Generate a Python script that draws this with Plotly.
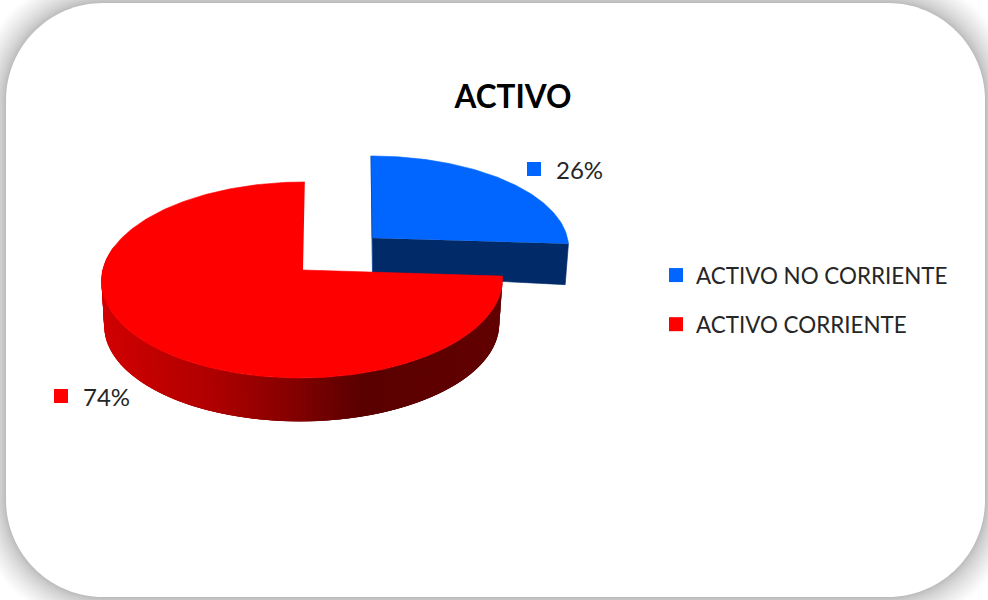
import math
import plotly.graph_objects as go

categories = ["ACTIVO NO CORRIENTE", "ACTIVO CORRIENTE"]
values = [26, 74]
top_colors = ["#0066FF", "#FF0000"]
side_color_blue = "#002A68"
side_stops = [(104, (208, 0, 0)), (210, (176, 0, 0)), (300, (128, 0, 0)), (360, (90, 0, 0)), (500, (98, 0, 0))]
title_text = "ACTIVO"
W, H = 988, 600
FONT = "Lato"
TEXT = "#262626"

# projection settings of each exploded slice
GEOM = [
    dict(cx=372, cy=238, A=90.4, B=195.5, k=0.102, m=0.0, s=-1, depth=41),
    dict(cx=303, cy=270, A=97, B=199.5, k=0.102, m=0.004, s=2, depth=45),
]
LABEL_POS = [(534, 169), (61, 396)]


def project(g, a, bottom=False, radius=1.0):
    X, Y = radius * math.sin(a), radius * math.cos(a)
    w = 1 + g["k"] * Y + g["m"] * X
    dx = (g["B"] * X + g["s"] * Y) / w
    dy = -g["A"] * Y / w
    if bottom:
        return g["cx"] + 0.985 * dx - 0.3, g["cy"] + 0.985 * dy + g["depth"]
    return g["cx"] + dx, g["cy"] + dy


def arc(g, a0, a1, bottom=False, n=120):
    return [project(g, a0 + (a1 - a0) * i / n, bottom) for i in range(n + 1)]


def side_color(x):
    if x <= side_stops[0][0]:
        c = side_stops[0][1]
    elif x >= side_stops[-1][0]:
        c = side_stops[-1][1]
    else:
        for (x0, c0), (x1, c1) in zip(side_stops, side_stops[1:]):
            if x0 <= x <= x1:
                t = (x - x0) / (x1 - x0)
                c = tuple(round(p + (q - p) * t) for p, q in zip(c0, c1))
                break
    return "rgb(%d,%d,%d)" % c


def poly(points, color, width=0.6):
    return go.Scatter(
        x=[p[0] for p in points], y=[p[1] for p in points], mode="lines", fill="toself",
        fillcolor=color, line=dict(color=color, width=width),
        hoverinfo="skip", showlegend=False,
    )


def rounded(l, t, r, b, rad):
    c = rad * 0.4477
    return (
        f"M{l + rad},{t} L{r - rad},{t} C{r - c},{t} {r},{t + c} {r},{t + rad} "
        f"L{r},{b - rad} C{r},{b - c} {r - c},{b} {r - rad},{b} "
        f"L{l + rad},{b} C{l + c},{b} {l},{b - c} {l},{b - rad} "
        f"L{l},{t + rad} C{l},{t + c} {l + c},{t} {l + rad},{t} Z"
    )


fig = go.Figure()
total = sum(values)
a_split = 2 * math.pi * values[0] / total

# blue slice: cut face, then top
gb = GEOM[0]
rim = project(gb, a_split)
rim_b = project(gb, a_split, True)
apex = (gb["cx"], gb["cy"])
apex_b = (gb["cx"] + 0.5, gb["cy"] + gb["depth"] - 4)
fig.add_trace(poly([apex, rim, rim_b, apex_b], side_color_blue))
fig.add_trace(poly([apex] + arc(gb, 0, a_split), top_colors[0]))
top_pt = project(gb, 0)
fig.add_trace(go.Scatter(x=[top_pt[0], apex[0], apex_b[0]], y=[top_pt[1], apex[1], apex_b[1]], mode="lines",
                         line=dict(color="#1C4E96", width=1), hoverinfo="skip", showlegend=False))

# red slice: shaded wall (each band overlaps the next), then top
gr = GEOM[1]
a_wall_end = math.radians(284)
N = 110
for i in range(N):
    a0 = a_split + (a_wall_end - a_split) * i / N
    a1 = a_split + (a_wall_end - a_split) * min(i + 3, N) / N
    a_mid = a_split + (a_wall_end - a_split) * (i + 0.5) / N
    tops = arc(gr, a0, a1, n=4)
    bots = arc(gr, a0, a1, bottom=True, n=4)
    fig.add_trace(poly(tops + bots[::-1], side_color(project(gr, a_mid)[0]), width=0))
apex_r = (gr["cx"], gr["cy"])
fig.add_trace(poly([apex_r] + arc(gr, a_split, 2 * math.pi, n=240), top_colors[1]))

# data labels with keys
for v, col, (lx, ly) in zip(values, top_colors, LABEL_POS):
    fig.add_trace(go.Scatter(x=[lx], y=[ly], mode="markers",
                             marker=dict(symbol="square", size=14, color=col),
                             hoverinfo="skip", showlegend=False))
    fig.add_annotation(x=lx + 20, y=ly, text=f"{v}%", showarrow=False, xanchor="left", yanchor="middle",
                       font=dict(family=FONT, size=24, color=TEXT))

# legend entries
for name, col in zip(categories, top_colors):
    fig.add_trace(go.Scatter(x=[None], y=[None], mode="markers", name=name, legendgroup=name,
                             marker=dict(symbol="square", size=14, color=col)))

# card with soft shadow (layers crowd towards the card edge)
shapes = []
L, T, R, B, RAD = 6, 3, 985, 597, 97
steps = 24
for i in range(steps, 0, -1):
    e = 30 * (i / steps) ** 1.6
    shapes.append(dict(type="path", path=rounded(L - e, T - e, R + e, B + e, RAD + e), layer="below",
                       fillcolor="rgba(0,0,0,0.0105)", line=dict(width=0)))
shapes.append(dict(type="path", path=rounded(L, T, R, B, RAD), layer="below",
                   fillcolor="white", line=dict(width=0)))

fig.update_layout(
    width=W, height=H, margin=dict(l=0, r=0, t=0, b=0), autosize=False,
    paper_bgcolor="white", plot_bgcolor="rgba(0,0,0,0)",
    shapes=shapes,
    title=dict(text=f"<b>{title_text}</b>", x=513 / W, y=1 - 97 / H, xanchor="center", yanchor="middle",
               font=dict(family=FONT, size=31.5, color="#000000")),
    xaxis=dict(range=[0, W], visible=False, fixedrange=True),
    yaxis=dict(range=[H, 0], visible=False, fixedrange=True),
    legend=dict(x=656 / W, y=1 - 254 / H, xanchor="left", yanchor="top", bgcolor="rgba(0,0,0,0)",
                font=dict(family=FONT, size=22.4, color=TEXT), tracegroupgap=17, itemclick=False, itemdoubleclick=False),
    showlegend=True,
)
fig.write_html("out.html", config=dict(displayModeBar=False),
               post_script="document.body.style.margin='0';document.documentElement.style.overflow='hidden';")
